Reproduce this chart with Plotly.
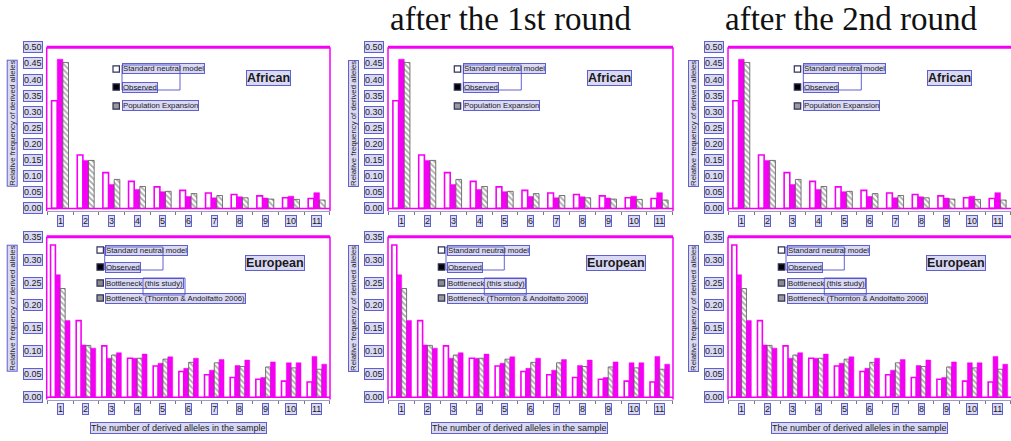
import plotly.graph_objects as go

# ---- data -------------------------------------------------------------
categories = ["1", "2", "3", "4", "5", "6", "7", "8", "9", "10", "11"]

african_standard = [0.334, 0.166, 0.111, 0.084, 0.067, 0.056, 0.048, 0.043, 0.039, 0.033, 0.031]
african_observed = [0.463, 0.149, 0.074, 0.059, 0.052, 0.037, 0.033, 0.036, 0.032, 0.038, 0.049]
african_expansion = [0.453, 0.149, 0.090, 0.068, 0.053, 0.046, 0.040, 0.033, 0.029, 0.028, 0.026]

european_standard = [0.332, 0.167, 0.112, 0.085, 0.068, 0.056, 0.049, 0.043, 0.039, 0.035, 0.033]
european_observed = [0.267, 0.114, 0.085, 0.085, 0.074, 0.063, 0.059, 0.069, 0.043, 0.075, 0.089]
european_bottleneck = [0.237, 0.113, 0.092, 0.085, 0.083, 0.076, 0.075, 0.067, 0.066, 0.064, 0.061]
european_thornton = [0.167, 0.107, 0.097, 0.094, 0.088, 0.085, 0.082, 0.081, 0.077, 0.075, 0.072]

african_yticks = [0.00, 0.05, 0.10, 0.15, 0.20, 0.25, 0.30, 0.35, 0.40, 0.45, 0.50]
european_yticks = [0.00, 0.05, 0.10, 0.15, 0.20, 0.25, 0.30, 0.35]

column_titles = ["", "after the 1st round", "after the 2nd round"]
x_title = "The number of derived alleles in the sample"
y_title = "Relative frequency of derived alleles"

african_legend = ["Standard neutral model", "Observed", "Population Expansion"]
european_legend = ["Standard neutral model", "Observed", "Bottleneck (this study)",
                   "Bottleneck (Thornton & Andolfatto 2006)"]

# ---- styling ----------------------------------------------------------
W, H = 1011, 441
MAGENTA = "#f500f5"
BOX_BG = "rgba(120,120,215,0.28)"
BOX_LINE = "rgba(70,70,200,0.85)"
SANS = "Liberation Sans, Arial, sans-serif"
SERIF = "Liberation Serif, Times New Roman, serif"

col_px = [(46.7, 330.0), (388.0, 673.0), (728.0, 1013.0)]
row_px = [(47.3, 211.0), (236.7, 399.5)]          # top, bottom
row_range = [[-0.008, 0.5], [-0.005, 0.35]]
ytitle_center = [123.5, 308.5]
x_range = [-0.53, 10.51]


def fx(p):
    return p / W


def fy(p):
    return 1 - p / H


std_style = dict(color="white", line=dict(color=MAGENTA, width=1.6))
obs_style = dict(color=MAGENTA, line=dict(color=MAGENTA, width=0.5))
hatch_style = dict(color="white", line=dict(color="#555555", width=0.8),
                   pattern=dict(shape="\\", fgcolor="#555555", bgcolor="white",
                                size=4, solidity=0.45))

fig = go.Figure()
shapes = []
annotations = []
layout_axes = {}


def boxed(text, x, y, xref, yref, size, xanchor="center", yanchor="middle",
          bold=False, angle=0):
    annotations.append(dict(
        text=f"<b>{text}</b>" if bold else text,
        x=x, y=y, xref=xref, yref=yref, showarrow=False,
        xanchor=xanchor, yanchor=yanchor, textangle=angle,
        font=dict(family=SANS, size=size, color="#1a1a1a"),
        bgcolor=BOX_BG, bordercolor=BOX_LINE, borderwidth=1, borderpad=0))


def rect(x0, y0, x1, y1, fill="rgba(0,0,0,0)", line="#333333", width=1):
    shapes.append(dict(type="rect", xref="paper", yref="paper",
                       x0=fx(x0), x1=fx(x1), y0=fy(y0), y1=fy(y1),
                       fillcolor=fill, line=dict(color=line, width=width)))


for r in range(2):
    top, bottom = row_px[r]
    for c in range(3):
        left, right = col_px[c]
        n = r * 3 + c + 1
        sfx = "" if n == 1 else str(n)
        xa, ya = "x" + sfx, "y" + sfx

        if r == 0:
            series = [(african_standard, std_style, -0.34, 0.22),
                      (african_observed, obs_style, -0.12, 0.22),
                      (african_expansion, hatch_style, 0.10, 0.22)]
        else:
            series = [(european_standard, std_style, -0.38, 0.19),
                      (european_observed, obs_style, -0.19, 0.19),
                      (european_bottleneck, hatch_style, 0.0, 0.19),
                      (european_thornton, obs_style, 0.19, 0.19)]
        for vals, style, off, wid in series:
            fig.add_trace(go.Bar(x=categories, y=vals, xaxis=xa, yaxis=ya,
                                 offset=off, width=wid, marker=style,
                                 showlegend=False, hoverinfo="skip"))

        layout_axes["xaxis" + sfx] = dict(
            domain=[fx(left), min(fx(right), 1.0)], anchor=ya, type="category",
            range=x_range, showline=True, linecolor="#9c9cd0", linewidth=1,
            ticks="outside", tickson="boundaries", ticklen=3, tickcolor="#7a7a7a",
            showticklabels=False, showgrid=False, zeroline=False, fixedrange=True)
        layout_axes["yaxis" + sfx] = dict(
            domain=[fy(bottom), fy(top)], anchor=xa, range=row_range[r],
            showline=False, ticks="", showticklabels=False, showgrid=False,
            zeroline=False, fixedrange=True)

        # panel frame: thick top rule, side rules and zero baseline
        right_edge = 1.0 if c < 2 else 1.02
        shapes += [
            dict(type="line", xref=xa + " domain", yref=ya + " domain",
                 x0=0, x1=right_edge, y0=1, y1=1, line=dict(color=MAGENTA, width=3)),
            dict(type="line", xref=xa + " domain", yref=ya + " domain",
                 x0=0, x1=0, y0=0, y1=1, line=dict(color=MAGENTA, width=1.5)),
            dict(type="line", xref=xa + " domain", yref=ya + " domain",
                 x0=right_edge, x1=right_edge, y0=0, y1=1,
                 line=dict(color=MAGENTA, width=1.5)),
            dict(type="line", xref=xa + " domain", yref=ya,
                 x0=0, x1=right_edge, y0=0, y1=0, line=dict(color=MAGENTA, width=1.5)),
        ]

        # category labels under the axis (positioned by category index)
        lab_y = fy(bottom + 9.5)
        for i, cat in enumerate(categories):
            boxed(cat, i, lab_y, xa, "paper", 9)

        # value labels left of the axis
        for v in (african_yticks if r == 0 else european_yticks):
            boxed(f"{v:.2f}", fx(left - 4), v, "paper", ya, 9, xanchor="right")

        # axis titles
        boxed(y_title, fx(left - 34.5), fy(ytitle_center[r]),
              "paper", "paper", 7.8, angle=-90)
        if r == 1:
            boxed(x_title, fx(left + 131.5), fy(428), "paper", "paper", 9)

        # in-plot legend
        if r == 0:
            rows = [21.7, 39.7, 58.7]
            sq_x, tx_x = 66.3, 75.0
            fills = ["white", "black", "#9a9a9a"]
            labels = african_legend
            boxed("African", fx(left + 221.3), fy(top + 30.7),
                  "paper", "paper", 12.5, bold=True)
            rect(left + 75.3, top + 17.7, left + 133.3, top + 42.7,
                 line=BOX_LINE, width=1)
        else:
            rows = [13.3, 30.3, 46.3, 61.3]
            sq_x, tx_x = 50.3, 58.5
            fills = ["white", "black", "#8a8a8a", "#9a9a9a"]
            labels = european_legend
            boxed("European", fx(left + 228.3), fy(top + 26.3),
                  "paper", "paper", 12.5, bold=True)
            rect(left + 58.0, top + 10.3, left + 116.3, top + 33.3,
                 line=BOX_LINE, width=1)
            rect(left + 96.3, top + 41.3, left + 138.3, top + 58.3,
                 line=BOX_LINE, width=1)
        for ry, fill, text in zip(rows, fills, labels):
            rect(left + sq_x, top + ry - 3.2, left + sq_x + 6.4, top + ry + 3.2,
                 fill=fill, line="#30305a", width=1.2)
            boxed(text, fx(left + tx_x), fy(top + ry), "paper", "paper", 7.8,
                  xanchor="left")

# column headings
heading_x = [0, 511, 851]
for c, title in enumerate(column_titles):
    if not title:
        continue
    annotations.append(dict(
        text=title, x=fx(heading_x[c]), y=fy(19), xref="paper", yref="paper",
        showarrow=False, xanchor="center", yanchor="middle",
        font=dict(family=SERIF, size=33, color="#111111")))

fig.update_layout(
    width=W, height=H, margin=dict(l=0, r=0, t=0, b=0),
    paper_bgcolor="white", plot_bgcolor="white",
    barmode="overlay", shapes=shapes, annotations=annotations,
    **layout_axes)

fig.write_html("out.html")
